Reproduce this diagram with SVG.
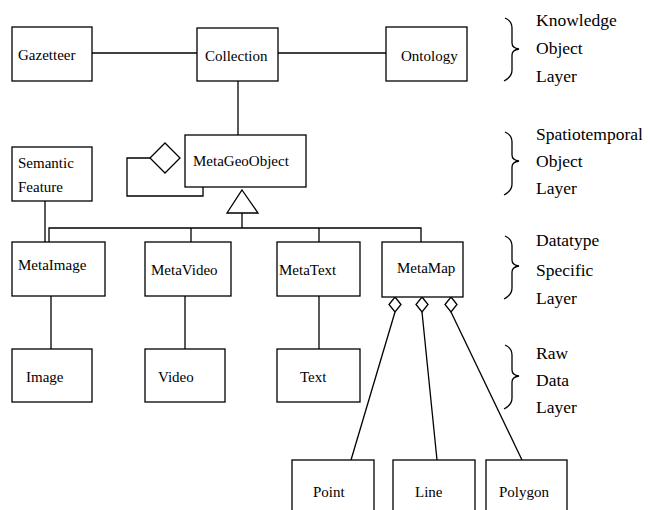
<svg xmlns="http://www.w3.org/2000/svg" width="650" height="510" viewBox="0 0 650 510">
<style>
.box{fill:#fff;stroke:#000;stroke-width:1.3}
.ln{fill:none;stroke:#000;stroke-width:1.3}
.dia{fill:#fff;stroke:#000;stroke-width:1.3}
.t{font-family:"Liberation Serif","Times New Roman",serif;font-size:15px;fill:#000}
.r{font-family:"Liberation Serif","Times New Roman",serif;font-size:17.5px;fill:#000}
</style>
<rect width="650" height="510" fill="#fff"/>
<g id="connectors">
<line class="ln" x1="92" y1="53" x2="197" y2="53"/>
<line class="ln" x1="278" y1="53" x2="386" y2="53"/>
<line class="ln" x1="238" y1="81" x2="238" y2="135"/>
<polyline class="ln" points="150,158 127,158 127,196 203,196 203,187"/>
<polygon class="dia" points="165,143 180,158 165,173 150,158"/>
<polygon class="dia" points="242,190 258,213 227,213"/>
<line class="ln" x1="242" y1="213" x2="242" y2="228"/>
<polyline class="ln" points="49,242 49,228 421,228 421,242"/>
<line class="ln" x1="191" y1="228" x2="191" y2="242"/>
<line class="ln" x1="319" y1="228" x2="319" y2="242"/>
<line class="ln" x1="45" y1="201" x2="45" y2="242"/>
<line class="ln" x1="51" y1="296" x2="51" y2="349"/>
<line class="ln" x1="185" y1="296" x2="185" y2="349"/>
<line class="ln" x1="319" y1="296" x2="319" y2="349"/>
<polygon class="dia" points="395,297 401,304.5 395,312 389,304.5"/>
<polygon class="dia" points="422,297 428,304.5 422,312 416,304.5"/>
<polygon class="dia" points="451,297 457,304.5 451,312 445,304.5"/>
<line class="ln" x1="395" y1="312" x2="351" y2="460"/>
<line class="ln" x1="422" y1="312" x2="437" y2="460"/>
<line class="ln" x1="451" y1="312" x2="522" y2="460"/>
</g>
<g id="gazetteer"><rect class="box" x="12" y="27" width="80" height="54"/><text class="t" x="18" y="60">Gazetteer</text></g>
<g id="collection"><rect class="box" x="197" y="28" width="81" height="53"/><text class="t" x="205" y="61">Collection</text></g>
<g id="ontology"><rect class="box" x="386" y="27" width="81" height="54"/><text class="t" x="401" y="61">Ontology</text></g>
<g id="metageoobject"><rect class="box" x="185" y="135" width="121" height="52"/><text class="t" x="193" y="166">MetaGeoObject</text></g>
<g id="semanticfeature"><rect class="box" x="12" y="147" width="80" height="54"/><text class="t" x="18" y="168">Semantic</text><text class="t" x="18" y="192">Feature</text></g>
<g id="metaimage"><rect class="box" x="12" y="242" width="93" height="54"/><text class="t" x="18" y="270">MetaImage</text></g>
<g id="metavideo"><rect class="box" x="145" y="242" width="86" height="54"/><text class="t" x="151" y="275">MetaVideo</text></g>
<g id="metatext"><rect class="box" x="277" y="242" width="83" height="54"/><text class="t" x="279" y="275">MetaText</text></g>
<g id="metamap"><rect class="box" x="382" y="242" width="81" height="55"/><text class="t" x="397" y="273">MetaMap</text></g>
<g id="image"><rect class="box" x="12" y="349" width="80" height="53"/><text class="t" x="26" y="382">Image</text></g>
<g id="video"><rect class="box" x="145" y="349" width="80" height="53"/><text class="t" x="158" y="382">Video</text></g>
<g id="text"><rect class="box" x="277" y="349" width="83" height="53"/><text class="t" x="300" y="382">Text</text></g>
<g id="point"><rect class="box" x="292" y="460" width="82" height="60"/><text class="t" x="313" y="497">Point</text></g>
<g id="line"><rect class="box" x="393" y="460" width="82" height="60"/><text class="t" x="415" y="497">Line</text></g>
<g id="polygon"><rect class="box" x="486" y="460" width="81" height="60"/><text class="t" x="499" y="497">Polygon</text></g>
<g id="layers">
<path class="ln" d="M505,18 Q512,21 512,28 L512,43 Q512,48 519,49 Q512,50 512,55 L512,70 Q512,77 504,81"/>
<text class="r" x="536" y="26">Knowledge</text><text class="r" x="536" y="54">Object</text><text class="r" x="536" y="82">Layer</text>
<path class="ln" d="M505,132 Q512,135 512,142 L512,155 Q512,160 519,161 Q512,162 512,167 L512,184 Q512,191 504,195"/>
<text class="r" x="536" y="140">Spatiotemporal</text><text class="r" x="536" y="167">Object</text><text class="r" x="536" y="194">Layer</text>
<path class="ln" d="M505,236 Q512,239 512,246 L512,260 Q512,265 519,266 Q512,267 512,272 L512,288 Q512,295 504,299"/>
<text class="r" x="536" y="246">Datatype</text><text class="r" x="536" y="276">Specific</text><text class="r" x="536" y="304">Layer</text>
<path class="ln" d="M505,345 Q512,348 512,355 L512,370 Q512,375 519,376 Q512,377 512,382 L512,398 Q512,405 504,409"/>
<text class="r" x="536" y="359">Raw</text><text class="r" x="536" y="386">Data</text><text class="r" x="536" y="413">Layer</text>
</g>
</svg>
